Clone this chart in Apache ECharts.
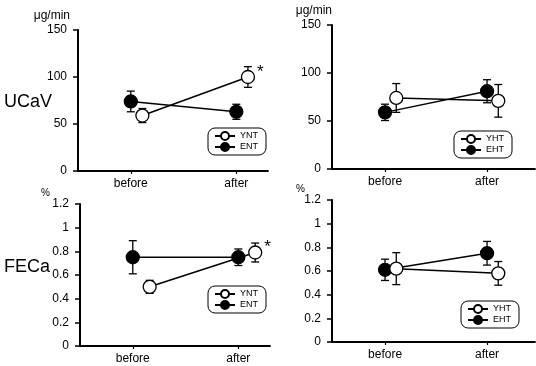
<!DOCTYPE html>
<html>
<head>
<meta charset="utf-8">
<title>UCaV / FECa</title>
<script src="https://cdn.jsdelivr.net/npm/echarts@6/dist/echarts.min.js"></script>
<style>
  html, body { margin: 0; padding: 0; background: #fff; }
  #chart { width: 536px; height: 366px; }
</style>
</head>
<body>
<div id="chart"></div>
<script>
// categories on the x axis
var categories = ['before', 'after'];

// UCaV (ug/min), mean and error
var ucavYntMean = [59, 100];
var ucavYntErr = [7.5, 11];
var ucavEntMean = [74, 63];
var ucavEntErr = [11, 8];
var ucavYhtMean = [74, 71];
var ucavYhtErr = [15, 17];
var ucavEhtMean = [59, 81];
var ucavEhtErr = [8.5, 12];

// FECa (%), mean and error
var fecaYntMean = [0.50, 0.79];
var fecaYntErr = [0.055, 0.08];
var fecaEntMean = [0.75, 0.75];
var fecaEntErr = [0.14, 0.07];
var fecaYhtMean = [0.62, 0.58];
var fecaYhtErr = [0.135, 0.10];
var fecaEhtMean = [0.61, 0.75];
var fecaEhtErr = [0.09, 0.10];

// significance marks
var yntSig = ['', '*'];

var FONT = 'Liberation Sans, Arial, sans-serif';

function pts(mean, shift, sig) {
  return mean.map(function (v, i) {
    var item = { value: [i + 1 + shift, v] };
    if (sig && sig[i]) {
      item.label = {
        show: true, formatter: sig[i], position: 'right', distance: 2,
        offset: [0, -5], fontSize: 17, color: '#000', fontFamily: FONT
      };
    }
    return item;
  });
}

function lineSeries(name, idx, mean, shift, filled, sig) {
  return {
    type: 'line', name: name, xAxisIndex: idx, yAxisIndex: idx,
    data: pts(mean, shift, sig),
    symbol: 'circle', symbolSize: 13,
    itemStyle: { color: filled ? '#000' : '#fff', borderColor: '#000', borderWidth: 1.3 },
    lineStyle: { color: '#000', width: 1.5 },
    z: filled ? 3 : 4,
    animation: false
  };
}

function errSeries(idx, mean, err, shift) {
  return {
    type: 'custom', xAxisIndex: idx, yAxisIndex: idx, z: 1, silent: true,
    data: mean.map(function (v, i) { return [i + 1 + shift, v - err[i], v + err[i]]; }),
    encode: { x: 0, y: [1, 2] },
    renderItem: function (params, api) {
      var x = api.value(0);
      var lo = api.coord([x, api.value(1)]);
      var hi = api.coord([x, api.value(2)]);
      var w = 4;
      var st = { stroke: '#000', lineWidth: 1.3 };
      return {
        type: 'group',
        children: [
          { type: 'line', shape: { x1: lo[0], y1: lo[1], x2: hi[0], y2: hi[1] }, style: st },
          { type: 'line', shape: { x1: lo[0] - w, y1: lo[1], x2: lo[0] + w, y2: lo[1] }, style: st },
          { type: 'line', shape: { x1: hi[0] - w, y1: hi[1], x2: hi[0] + w, y2: hi[1] }, style: st }
        ]
      };
    },
    animation: false
  };
}

function xAxis(idx, min, max) {
  return {
    gridIndex: idx, type: 'value', min: min, max: max,
    axisLine: { onZero: false, lineStyle: { color: '#000', width: 1.8 } },
    splitLine: { show: false },
    axisTick: { customValues: [1, 2], length: 3, lineStyle: { color: '#000', width: 1.2 } },
    axisLabel: {
      customValues: [1, 2], color: '#000', fontSize: 12, margin: 7, fontFamily: FONT,
      formatter: function (v) { return categories[Math.round(v) - 1]; }
    }
  };
}

function yAxis(idx, max, interval, name, nameGap, namePad, nameSize) {
  return {
    gridIndex: idx, type: 'value', min: 0, max: max, interval: interval,
    axisLine: { show: true, onZero: false, lineStyle: { color: '#000', width: 2 } },
    axisTick: { show: true, length: 5, lineStyle: { color: '#000', width: 1.5 } },
    splitLine: { show: false },
    axisLabel: { color: '#000', fontSize: 12, margin: 11, fontFamily: FONT },
    name: name, nameLocation: 'end', nameGap: nameGap,
    nameTextStyle: {
      color: '#000', fontSize: nameSize, fontFamily: FONT,
      align: 'right', verticalAlign: 'middle', padding: [0, namePad, 0, 0]
    }
  };
}

function legend(names, left, top) {
  return {
    data: names, left: left, top: top, orient: 'vertical',
    itemWidth: 20, itemHeight: 10, itemGap: 1,
    padding: [3, 8, 3, 6],
    borderColor: '#000', borderWidth: 1, borderRadius: 7,
    textStyle: { color: '#000', fontSize: 9, fontFamily: FONT },
    selectedMode: false
  };
}

var chart = echarts.init(document.getElementById('chart'));
chart.setOption({
  animation: false,
  textStyle: { fontFamily: FONT },
  title: [
    { text: 'UCaV', left: 4, top: 93, padding: 0, textStyle: { fontSize: 18, fontWeight: 'normal', color: '#000', fontFamily: FONT } },
    { text: 'FECa', left: 4, top: 258, padding: 0, textStyle: { fontSize: 18, fontWeight: 'normal', color: '#000', fontFamily: FONT } }
  ],
  grid: [
    { left: 78, top: 30, right: 268, bottom: 195 },
    { left: 332, top: 25, right: 1, bottom: 197 },
    { left: 80, top: 204, right: 266, bottom: 20 },
    { left: 332, top: 200, right: 1, bottom: 24 }
  ],
  legend: [
    legend(['YNT', 'ENT'], 208, 128),
    legend(['YHT', 'EHT'], 454, 131),
    legend(['YNT', 'ENT'], 208, 286),
    legend(['YHT', 'EHT'], 461, 301)
  ],
  xAxis: [
    xAxis(0, 0.5, 2.3),
    xAxis(1, 0.48, 2.47),
    xAxis(2, 0.5, 2.3),
    xAxis(3, 0.48, 2.47)
  ],
  yAxis: [
    yAxis(0, 150, 50, 'μg/min', 14, 8, 12),
    yAxis(1, 150, 50, 'μg/min', 14, 0, 12),
    yAxis(2, 1.2, 0.2, '%', 10, 30, 10),
    yAxis(3, 1.2, 0.2, '%', 8, 27, 10)
  ],
  series: [
    errSeries(0, ucavEntMean, ucavEntErr, 0),
    errSeries(0, ucavYntMean, ucavYntErr, 0.11),
    lineSeries('ENT', 0, ucavEntMean, 0, true),
    lineSeries('YNT', 0, ucavYntMean, 0.11, false, yntSig),

    errSeries(1, ucavEhtMean, ucavEhtErr, 0),
    errSeries(1, ucavYhtMean, ucavYhtErr, 0.11),
    lineSeries('EHT', 1, ucavEhtMean, 0, true),
    lineSeries('YHT', 1, ucavYhtMean, 0.11, false),

    errSeries(2, fecaEntMean, fecaEntErr, 0),
    errSeries(2, fecaYntMean, fecaYntErr, 0.16),
    lineSeries('ENT', 2, fecaEntMean, 0, true),
    lineSeries('YNT', 2, fecaYntMean, 0.16, false, yntSig),

    errSeries(3, fecaEhtMean, fecaEhtErr, 0),
    errSeries(3, fecaYhtMean, fecaYhtErr, 0.11),
    lineSeries('EHT', 3, fecaEhtMean, 0, true),
    lineSeries('YHT', 3, fecaYhtMean, 0.11, false)
  ]
});
</script>
</body>
</html>
